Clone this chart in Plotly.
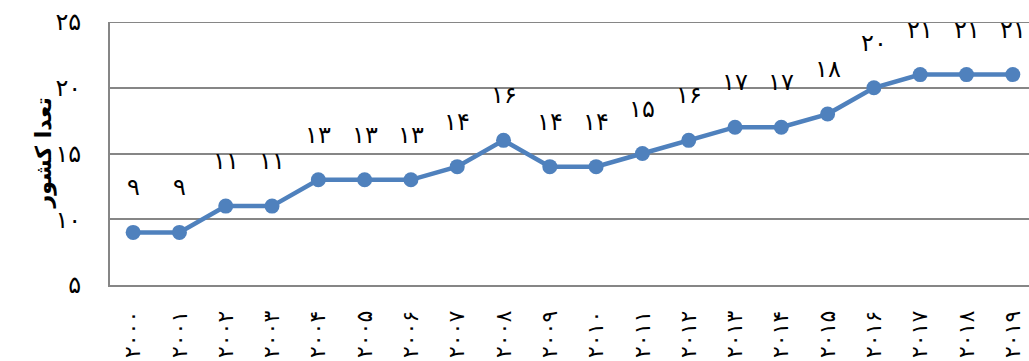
import plotly.graph_objects as go

years = [str(y) for y in range(2000, 2020)]
values = [9, 9, 11, 11, 13, 13, 13, 14, 16, 14, 14, 15, 16, 17, 17, 18, 20, 21, 21, 21]
y_ticks = [5, 10, 15, 20, 25]
y_title = "تعدا کشور"

def fa(s):
    return str(s).translate(str.maketrans("0123456789", "۰۱۲۳۴۵۶۷۸۹"))

FONT = "DejaVu Sans"
fig = go.Figure()
fig.add_trace(go.Scatter(
    x=years, y=values, mode="lines+markers",
    line=dict(color="#4F81BD", width=4.5),
    marker=dict(color="#4F81BD", size=15),
    hoverinfo="skip", showlegend=False, cliponaxis=False,
))
for i, v in enumerate(values):
    fig.add_annotation(x=i, y=v, text=fa(v), showarrow=False, yshift=45,
                       font=dict(family=FONT, size=24, color="black"))
fig.add_annotation(xref="paper", yref="paper", x=0, y=0.5, xshift=-82,
                   text="<b>" + y_title + "</b>", textangle=-90, showarrow=False,
                   font=dict(family=FONT, size=22, color="black"))

n = len(years)
fig.update_layout(
    width=1029, height=361,
    margin=dict(l=110, r=0, t=22, b=76),
    paper_bgcolor="white", plot_bgcolor="white",
    xaxis=dict(type="category", tickvals=years, ticktext=[fa(y) for y in years],
               range=[-0.5, n - 0.65], tickangle=-90, showgrid=False,
               showline=True, linecolor="#868686", linewidth=2, mirror=False,
               ticks="", ticklabelstandoff=15,
               tickfont=dict(family=FONT, size=22, color="black")),
    yaxis=dict(range=[5, 25], tickvals=y_ticks, ticktext=[fa(t) for t in y_ticks],
               showgrid=True, gridcolor="#868686", gridwidth=2,
               showline=True, linecolor="#868686", linewidth=2,
               zeroline=False, ticks="", ticklabelstandoff=22,
               tickfont=dict(family=FONT, size=24, color="black")),
)
fig.add_shape(type="line", xref="paper", yref="y", x0=0, x1=1, y0=25, y1=25,
              line=dict(color="#868686", width=2), layer="below")
fig.write_html("out.html")
